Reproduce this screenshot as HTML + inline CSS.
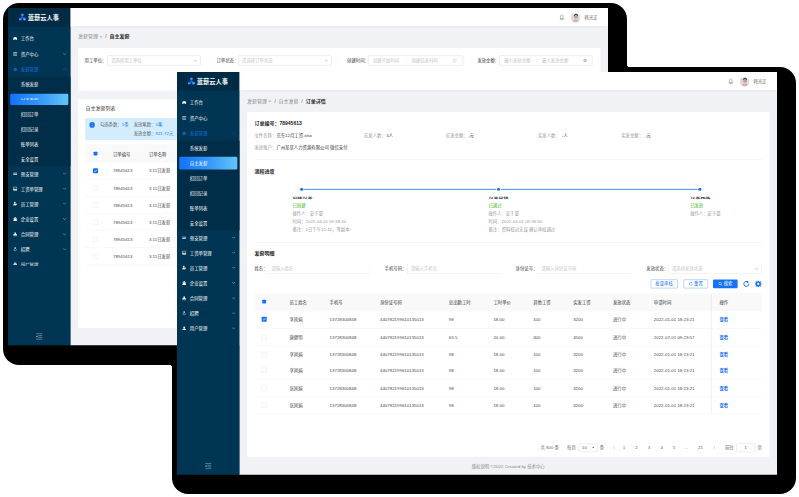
<!DOCTYPE html>
<html lang="zh-CN"><head><meta charset="utf-8"><title>蓝薪云人事 - 自主发薪 / 订单详情</title>
<style>
*{margin:0;padding:0;box-sizing:border-box}
html,body{width:799px;height:497px;background:#fff;overflow:hidden}
body{position:relative;font-family:"Liberation Sans","Noto Sans CJK SC",sans-serif}
.k{position:absolute;background:#000;border-radius:16px}
.win{position:absolute;width:1920px;transform:scale(.3125);transform-origin:0 0;overflow:hidden}
.b{position:absolute;display:block}
.t{position:absolute;white-space:nowrap;line-height:20px}
</style></head>
<body>
<div class="k" style="left:3px;top:3px;width:624px;height:362px"></div>
<div class="k" style="left:172px;top:66.8px;width:624px;height:427.2px"></div>
<div style="position:absolute;left:627px;top:64.8px;width:2px;height:2px;background:radial-gradient(circle at 100% 0,rgba(0,0,0,0) 1.9px,#000 2px)"></div>
<div style="position:absolute;left:170px;top:365px;width:2px;height:2px;background:radial-gradient(circle at 0 100%,rgba(0,0,0,0) 1.9px,#000 2px)"></div>
<div class="win" style="left:8px;top:8px;height:1080px"><div class="b" style="left:199px;top:0px;width:1721px;height:1080px;background:#f1f2f5"></div><div class="t" style="left:224px;top:80px;font-size:16px;color:#8c8c8c;line-height:24px;">发薪管理</div><svg class="b" style="left:293px;top:88.4px;" width="10" height="8.2" viewBox="0 0 10 8.2"><polyline points="0.5,0.8 5,7.2 9.5,0.8" fill="none" stroke="#808080" stroke-width="1.7" opacity="1"/></svg><div class="t" style="left:311px;top:80px;font-size:16px;color:#555;line-height:24px;">/</div><div class="t" style="left:325px;top:80px;font-size:16px;color:#262626;line-height:24px;font-weight:700;">自主发薪</div><div class="b" style="left:224px;top:128px;width:1672px;height:137px;background:#fff;border-radius:3px"></div><div class="t" style="left:245px;top:158px;font-size:14px;color:#3c3c3c;">用工单位：</div><div class="b" style="left:318px;top:152px;width:298px;height:32px;background:#fff;border:1.6px solid #c8c8c8;border-radius:3px;"></div><div class="t" style="left:330px;top:158px;font-size:14px;color:#c4c4c4;">请选择用工单位</div><svg class="b" style="left:593.5px;top:163.76px;" width="11" height="8.48" viewBox="0 0 11 8.48"><polyline points="0.5,0.8 5.5,7.48 10.5,0.8" fill="none" stroke="#a6a6a6" stroke-width="1.5" opacity="1"/></svg><div class="t" style="left:667px;top:158px;font-size:14px;color:#3c3c3c;">订单状态：</div><div class="b" style="left:737px;top:152px;width:298px;height:32px;background:#fff;border:1.6px solid #c8c8c8;border-radius:3px;"></div><div class="t" style="left:749px;top:158px;font-size:14px;color:#c4c4c4;">请选择订单状态</div><svg class="b" style="left:1012.5px;top:163.76px;" width="11" height="8.48" viewBox="0 0 11 8.48"><polyline points="0.5,0.8 5.5,7.48 10.5,0.8" fill="none" stroke="#a6a6a6" stroke-width="1.5" opacity="1"/></svg><div class="t" style="left:1085px;top:158px;font-size:14px;color:#3c3c3c;">创建时间：</div><div class="b" style="left:1153px;top:152px;width:303px;height:32px;background:#fff;border:1.6px solid #c8c8c8;border-radius:3px;"></div><div class="t" style="left:1168px;top:158px;font-size:14px;color:#c4c4c4;">创建开始时间</div><div class="t" style="left:1270px;top:158px;font-size:14px;color:#c4c4c4;">-</div><div class="t" style="left:1291px;top:158px;font-size:14px;color:#c4c4c4;">创建结束时间</div><svg class="b" style="left:1421.5px;top:161px;" width="14" height="14" viewBox="0 0 14 14"><circle cx="7" cy="7" r="5.6" fill="none" stroke="#bdbdbd" stroke-width="1.3"/><path d="M7 3.800v3.600l2.400 1.400" fill="none" stroke="#bdbdbd" stroke-width="1.2"/></svg><div class="t" style="left:1502px;top:158px;font-size:14px;color:#3c3c3c;">发放金额：</div><div class="b" style="left:1572px;top:152px;width:298px;height:32px;background:#fff;border:1.6px solid #c8c8c8;border-radius:3px;"></div><div class="t" style="left:1588px;top:158px;font-size:14px;color:#c4c4c4;">最小发放金额</div><div class="t" style="left:1688px;top:158px;font-size:14px;color:#c4c4c4;">-</div><div class="t" style="left:1709px;top:158px;font-size:14px;color:#c4c4c4;">最大发放金额</div><svg class="b" style="left:1840px;top:161px;" width="14" height="14" viewBox="0 0 14 14"><circle cx="7" cy="7" r="5.8" fill="#bcbcbc"/><path d="M4.800 4.800 9.200 9.200M9.200 4.800 4.800 9.200" stroke="#fff" stroke-width="1.300"/></svg><div class="b" style="left:224px;top:291.5px;width:1672px;height:732.5px;background:#fff;border-radius:3px"></div><div class="t" style="left:248px;top:309.6px;font-size:16px;color:#333;line-height:24px;">自主发薪列表</div><div class="b" style="left:248px;top:352.6px;width:1624px;height:69px;background:#d4edfe;border:1px solid #a6daff;border-radius:4px"></div><svg class="b" style="left:260px;top:365.2px;" width="18.4" height="18.4" viewBox="0 0 18.4 18.4"><circle cx="9.200" cy="9.200" r="9" fill="#1672f5"/><path d="M9.200 8.400v5" stroke="#fff" stroke-width="1.500"/><circle cx="9.200" cy="5.600" r="1" fill="#fff"/></svg><div class="t" style="left:294px;top:364.4px;font-size:14px;color:#666;">勾选条数：<span style="color:#1a7bf2">1条</span></div><div class="t" style="left:402px;top:364.4px;font-size:14px;color:#666;">发放笔数：<span style="color:#1a7bf2">5笔</span></div><div class="t" style="left:402px;top:392.2px;font-size:14px;color:#666;">发放金额：<span style="color:#1a7bf2">921.72元</span></div><div class="b" style="left:248px;top:436px;width:1624px;height:58.5px;background:#f9f9fa;border-radius:3px 3px 0 0"></div><div class="b" style="left:273.7px;top:459.5px;width:12px;height:12px;background:#1672f5;border-radius:1.5px"></div><div class="t" style="left:336px;top:456.5px;font-size:14px;color:#333;">订单编号</div><div class="t" style="left:451px;top:456.5px;font-size:14px;color:#333;">订单名称</div><div class="b" style="left:248px;top:547px;width:1624px;height:1px;background:#ebebeb"></div><div class="b" style="left:271.7px;top:512.5px;width:16px;height:16px;background:#1672f5;border-radius:2px"></div><svg class="b" style="left:271.7px;top:512.5px;" width="16" height="16" viewBox="0 0 16 16"><path d="M3.6 8.2 6.8 11.2 12.4 4.8" fill="none" stroke="#fff" stroke-width="2"/></svg><div class="t" style="left:336px;top:510.5px;font-size:14px;color:#484848;">78945613</div><div class="t" style="left:451px;top:510.5px;font-size:14px;color:#484848;">3.11日发薪</div><div class="b" style="left:248px;top:602px;width:1624px;height:1px;background:#ebebeb"></div><div class="b" style="left:271.7px;top:567.5px;width:16px;height:16px;background:#fff;border:1px solid #d9d9d9;border-radius:2px"></div><div class="t" style="left:336px;top:565.5px;font-size:14px;color:#484848;">78945613</div><div class="t" style="left:451px;top:565.5px;font-size:14px;color:#484848;">3.11日发薪</div><div class="b" style="left:248px;top:657px;width:1624px;height:1px;background:#ebebeb"></div><div class="b" style="left:271.7px;top:622.5px;width:16px;height:16px;background:#fff;border:1px solid #d9d9d9;border-radius:2px"></div><div class="t" style="left:336px;top:620.5px;font-size:14px;color:#484848;">78945613</div><div class="t" style="left:451px;top:620.5px;font-size:14px;color:#484848;">3.11日发薪</div><div class="b" style="left:248px;top:712px;width:1624px;height:1px;background:#ebebeb"></div><div class="b" style="left:271.7px;top:677.5px;width:16px;height:16px;background:#fff;border:1px solid #d9d9d9;border-radius:2px"></div><div class="t" style="left:336px;top:675.5px;font-size:14px;color:#484848;">78945613</div><div class="t" style="left:451px;top:675.5px;font-size:14px;color:#484848;">3.11日发薪</div><div class="b" style="left:248px;top:767px;width:1624px;height:1px;background:#ebebeb"></div><div class="b" style="left:271.7px;top:732.5px;width:16px;height:16px;background:#fff;border:1px solid #d9d9d9;border-radius:2px"></div><div class="t" style="left:336px;top:730.5px;font-size:14px;color:#484848;">78945613</div><div class="t" style="left:451px;top:730.5px;font-size:14px;color:#484848;">3.11日发薪</div><div class="b" style="left:248px;top:822px;width:1624px;height:1px;background:#ebebeb"></div><div class="b" style="left:271.7px;top:787.5px;width:16px;height:16px;background:#fff;border:1px solid #d9d9d9;border-radius:2px"></div><div class="t" style="left:336px;top:785.5px;font-size:14px;color:#484848;">78945613</div><div class="t" style="left:451px;top:785.5px;font-size:14px;color:#484848;">3.11日发薪</div><div class="b" style="left:0px;top:0px;width:200px;height:1080px;background:#003553"></div><div class="b" style="left:0px;top:0px;width:200px;height:60px;background:#002b45"></div><svg class="b" style="left:34px;top:16px;" width="24" height="27" viewBox="0 0 24 27"><circle cx="12" cy="6" r="4.4" fill="#2b86fb"/><path d="M12 9 5 18h14z" fill="#1b6ef0"/><circle cx="5.6" cy="19" r="5" fill="#1a6df0"/><circle cx="18.4" cy="19" r="5" fill="#2b86fb"/><circle cx="12" cy="16.5" r="2.600" fill="#0d4fc0"/><circle cx="4.400" cy="20.500" r="1.800" fill="#7fd0ff"/><circle cx="19.600" cy="20.500" r="1.800" fill="#7fd0ff"/><circle cx="12" cy="4.600" r="1.600" fill="#5ab0ff"/></svg><div class="t" style="left:63px;top:16px;font-size:20px;color:#fff;line-height:28px;font-weight:700;">蓝薪云人事</div><svg class="b" style="left:16px;top:90.3px;" width="14" height="14" viewBox="0 0 14 14"><path d="M.6 11.600V9.400A6.400 6.400 0 0 1 13.400 9.400V11.600H8.600V10H5.400V11.600Z" fill="#fff"/></svg><div class="t m" style="left:41px;top:88.4px;font-size:14px;color:#fff;">工作台</div><svg class="b" style="left:16px;top:139.6px;" width="14" height="14" viewBox="0 0 14 14"><path d="M2.400 2.600H12.600M1 7H11.400M2.400 11.400H12.600" stroke="#fff" stroke-width="2.200" stroke-linecap="round" fill="none" opacity=".85"/></svg><div class="t m" style="left:41px;top:137.7px;font-size:14px;color:#fff;">资产中心</div><svg class="b" style="left:176px;top:143.6px;" width="10" height="6" viewBox="0 0 10 6"><polyline points="0.5,0.8 5,5 9.5,0.8" fill="none" stroke="#fff" stroke-width="1.3" opacity="0.8"/></svg><svg class="b" style="left:16px;top:188.8px;" width="14" height="14" viewBox="0 0 14 14"><circle cx="7" cy="7.600" r="5.200" fill="#1a6fdc" opacity=".9"/><path d="M4.600 7.800 6.400 9.600 9.600 5.800" stroke="#003553" stroke-width="1.500" fill="none"/></svg><div class="t m" style="left:41px;top:186.9px;font-size:14px;color:#1a6fdc;">发薪管理</div><svg class="b" style="left:176px;top:192.8px;" width="10" height="6" viewBox="0 0 10 6"><polyline points="0.5,5 5,0.8 9.5,5" fill="none" stroke="#1a6fdc" stroke-width="1.6" opacity="1"/></svg><div class="b" style="left:0px;top:220px;width:200px;height:286px;background:#002d48"></div><div class="t m" style="left:41px;top:234.935px;font-size:14px;color:#fff;">系统发薪</div><div class="b" style="left:7px;top:273.805px;width:186px;height:36px;border-radius:4px;background:linear-gradient(90deg,#1273fb 0%,#2f93fb 45%,#63c4fa 100%)"></div><div class="b" style="left:0;top:288.005px;width:200px;height:6px;overflow:hidden"><div class="t m" style="left:41px;top:-5.4px;font-size:14px;color:#fff;">自主发薪</div></div><div class="t m" style="left:41px;top:330.275px;font-size:14px;color:#fff;">扣回订单</div><div class="t m" style="left:41px;top:377.945px;font-size:14px;color:#fff;">扣回记录</div><div class="t m" style="left:41px;top:425.615px;font-size:14px;color:#fff;">账单列表</div><div class="t m" style="left:41px;top:473.285px;font-size:14px;color:#fff;">安全设置</div><svg class="b" style="left:16px;top:522.6px;" width="14" height="14" viewBox="0 0 14 14"><path d="M.8 4.200h12.400v2.200H.8zM.8 8h12.400v2.200H.8z" fill="#fff" opacity=".9"/></svg><div class="t m" style="left:41px;top:520.7px;font-size:14px;color:#fff;">预支管理</div><svg class="b" style="left:176px;top:526.6px;" width="10" height="6" viewBox="0 0 10 6"><polyline points="0.5,0.8 5,5 9.5,0.8" fill="none" stroke="#fff" stroke-width="1.5" opacity="0.85"/></svg><svg class="b" style="left:16px;top:571.2px;" width="14" height="14" viewBox="0 0 14 14"><path d="M1.6 1.4h10.8v11.2H1.6z" fill="none" stroke="#fff" stroke-width="1.5"/><path d="M1.6 9h10.8v3.6H1.6z" fill="#fff"/><path d="M4.3 5.2 6.3 7 9.8 3.4" stroke="#fff" stroke-width="1.2" fill="none"/></svg><div class="t m" style="left:41px;top:569.3px;font-size:14px;color:#fff;">工资单管理</div><svg class="b" style="left:176px;top:575.2px;" width="10" height="6" viewBox="0 0 10 6"><polyline points="0.5,0.8 5,5 9.5,0.8" fill="none" stroke="#fff" stroke-width="1.5" opacity="0.85"/></svg><svg class="b" style="left:16px;top:618.5px;" width="14" height="14" viewBox="0 0 14 14"><circle cx="5.6" cy="4" r="2.9" fill="#fff"/><path d="M.6 12.6c0-3.2 2.2-5 5-5s5 1.8 5 5z" fill="#fff"/><path d="M11.2 6.6v4.6M8.9 8.9h4.6" stroke="#fff" stroke-width="1.4"/></svg><div class="t m" style="left:41px;top:616.6px;font-size:14px;color:#fff;">员工管理</div><svg class="b" style="left:176px;top:622.5px;" width="10" height="6" viewBox="0 0 10 6"><polyline points="0.5,0.8 5,5 9.5,0.8" fill="none" stroke="#fff" stroke-width="1.5" opacity="0.85"/></svg><svg class="b" style="left:16px;top:667.6px;" width="14" height="14" viewBox="0 0 14 14"><path d="M7 1 12.8 5.2V6.4H1.2V5.2ZM2.4 7h9.2v4H2.4ZM1 11.4h12v1.8H1Z" fill="#fff"/></svg><div class="t m" style="left:41px;top:665.7px;font-size:14px;color:#fff;">企业设置</div><svg class="b" style="left:176px;top:671.6px;" width="10" height="6" viewBox="0 0 10 6"><polyline points="0.5,0.8 5,5 9.5,0.8" fill="none" stroke="#fff" stroke-width="1.5" opacity="0.85"/></svg><svg class="b" style="left:16px;top:716.5px;" width="14" height="14" viewBox="0 0 14 14"><path d="M5.2 1.2h3.6a1 1 0 0 1 1 1L9 7h3.2a1 1 0 0 1 1 1v2.4H.8V8a1 1 0 0 1 1-1H5L4.2 2.2a1 1 0 0 1 1-1zM1.2 11.4h11.6v1.6H1.2z" fill="#fff"/></svg><div class="t m" style="left:41px;top:714.6px;font-size:14px;color:#fff;">合同管理</div><svg class="b" style="left:176px;top:720.5px;" width="10" height="6" viewBox="0 0 10 6"><polyline points="0.5,0.8 5,5 9.5,0.8" fill="none" stroke="#fff" stroke-width="1.5" opacity="0.85"/></svg><svg class="b" style="left:16px;top:764.8px;" width="14" height="14" viewBox="0 0 14 14"><circle cx="7" cy="8.6" r="3.8" fill="none" stroke="#fff" stroke-width="1.3"/><path d="M4.4 1.4h5.2v2H4.4z" fill="#fff"/><path d="M7 3.4v1.6" stroke="#fff" stroke-width="1.2"/></svg><div class="t m" style="left:41px;top:762.9px;font-size:14px;color:#fff;">招聘</div><svg class="b" style="left:176px;top:768.8px;" width="10" height="6" viewBox="0 0 10 6"><polyline points="0.5,0.8 5,5 9.5,0.8" fill="none" stroke="#fff" stroke-width="1.5" opacity="0.85"/></svg><div class="b" style="left:0;top:814.4px;width:200px;height:20px;overflow:hidden"><div class="b" style="left:0;top:-814.4px;width:200px;height:900px"><svg class="b" style="left:16px;top:809.3px;" width="14" height="14" viewBox="0 0 14 14"><circle cx="7" cy="4" r="3" fill="#fff"/><path d="M.8 12.8c0-3.4 2.6-5 6.2-5s6.2 1.6 6.2 5z" fill="#fff"/></svg><div class="t m" style="left:41px;top:807.4px;font-size:14px;color:#fff;">用户管理</div></div></div><svg class="b" style="left:89px;top:1039px;" width="22" height="24" viewBox="0 0 22 24"><path d="M1 3.500h20M8 9.300H21M8 14.700H21M1 20.500h20" stroke="#fff" stroke-opacity=".42" stroke-width="2.600"/><path d="M5.200 9 .6 12l4.600 3z" fill="#fff" fill-opacity=".85"/></svg><div class="b" style="left:200px;top:0px;width:1720px;height:60px;background:#fff;box-shadow:0 2px 5px rgba(0,12,30,.3)"></div><svg class="b" style="left:1764px;top:20px;" width="16" height="20" viewBox="0 0 16 20"><path d="M8 1.800c-2.600 0-4 2.100-4 4.800v4.600L2.400 15h11.200L12 11.200V6.600c0-2.700-1.400-4.800-4-4.800z" fill="none" stroke="#707070" stroke-width="1.400"/><path d="M2 15.400h12M6.400 17.800h3.200" stroke="#707070" stroke-width="1.400"/></svg><svg class="b" style="left:1800.5px;top:15.5px;border-radius:50%;" width="30" height="30" viewBox="0 0 30 30"><rect width="30" height="30" fill="#dcdcdf"/><path d="M6 30c1-6 5-9 11-9s10 3 11 9z" fill="#cfb3ad"/><ellipse cx="16.500" cy="14.500" rx="5.600" ry="7" fill="#ddb9ab"/><path d="M9.500 11.500c-.4-5.500 2.800-8.700 7.200-8.700 4.700 0 7.400 3.300 6.300 8.200-1.300-2.500-3.400-3.600-6.500-3.600-3.200 0-5.400 1.300-7 4.100z" fill="#262324"/><path d="M11 12.800h11" stroke="#3a3435" stroke-width="1.300"/></svg><div class="t" style="left:1845px;top:20.5px;font-size:14px;color:#666;">韩光正</div></div>
<div class="win" style="left:177px;top:71.9px;height:1289px"><div class="b" style="left:199px;top:0px;width:1721px;height:1290px;background:#f1f2f5"></div><div class="t" style="left:224px;top:81px;font-size:16px;color:#8c8c8c;line-height:24px;">发薪管理</div><svg class="b" style="left:292px;top:89.4px;" width="10" height="8.2" viewBox="0 0 10 8.2"><polyline points="0.5,0.8 5,7.2 9.5,0.8" fill="none" stroke="#808080" stroke-width="1.7" opacity="1"/></svg><div class="t" style="left:312px;top:81px;font-size:16px;color:#555;line-height:24px;">/</div><div class="t" style="left:325px;top:81px;font-size:16px;color:#8c8c8c;line-height:24px;">自主发薪</div><div class="t" style="left:397.5px;top:81px;font-size:16px;color:#555;line-height:24px;">/</div><div class="t" style="left:412px;top:81px;font-size:16px;color:#262626;line-height:24px;font-weight:700;">订单详情</div><div class="b" style="left:224px;top:128px;width:1672px;height:1103px;background:#fff;border-radius:3px"></div><div class="t" style="left:248px;top:151.5px;font-size:16px;color:#222;line-height:24px;font-weight:700;">订单编号：78945613</div><div class="t" style="left:248px;top:192.3px;font-size:14px;color:#9a9a9a;">文件名称：</div><div class="t" style="left:318px;top:192.3px;font-size:14px;color:#333;">京东12月工资.xlsx</div><div class="t" style="left:598.4px;top:192.3px;font-size:14px;color:#9a9a9a;">应发人数：</div><div class="t" style="left:670px;top:192.3px;font-size:14px;color:#333;">5人</div><div class="t" style="left:860.2px;top:192.3px;font-size:14px;color:#9a9a9a;">应发金额：</div><div class="t" style="left:931px;top:192.3px;font-size:14px;color:#333;">-元</div><div class="t" style="left:1155.2px;top:192.3px;font-size:14px;color:#9a9a9a;">实发人数：</div><div class="t" style="left:1232px;top:192.3px;font-size:14px;color:#333;">-人</div><div class="t" style="left:1421.4px;top:192.3px;font-size:14px;color:#9a9a9a;">实发金额：</div><div class="t" style="left:1498px;top:192.3px;font-size:14px;color:#333;">-元</div><div class="t" style="left:248px;top:229.8px;font-size:14px;color:#9a9a9a;">发放账户：</div><div class="t" style="left:318px;top:229.8px;font-size:14px;color:#333;">广州某某人力资源有限公司 微信支付</div><div class="b" style="left:248px;top:280px;width:1624px;height:1px;background:#e4e4e4"></div><div class="t" style="left:248px;top:306px;font-size:16px;color:#222;line-height:24px;font-weight:700;">流程进度</div><div class="b" style="left:399.4px;top:374.2px;width:1273.2px;height:2.4px;background:#3585fb"></div><div class="b" style="left:394.4px;top:370.4px;width:10px;height:10px;background:#1672f5;border-radius:50%;box-shadow:0 0 0 3px #fff"></div><div class="b" style="left:1023.8px;top:370.4px;width:10px;height:10px;background:#1672f5;border-radius:50%;box-shadow:0 0 0 3px #fff"></div><div class="b" style="left:1667.6px;top:370.4px;width:10px;height:10px;background:#1672f5;border-radius:50%;box-shadow:0 0 0 3px #fff"></div><div class="b" style="left:369.3px;top:398.500px;width:200px;height:14px;overflow:hidden"><div class="t" style="left:0px;top:-11.5px;font-size:16px;color:#2e2e2e;line-height:24px;font-weight:700;">创建订单</div></div><div class="t" style="left:369.3px;top:417.6px;font-size:14px;color:#41b82a;">已创建</div><div class="t" style="left:369.3px;top:443.2px;font-size:14px;color:#9a9a9a;">操作人：彭于晏</div><div class="t" style="left:369.3px;top:468.4px;font-size:14px;color:#9a9a9a;">时间：2022-04-01 09:38:30</div><div class="t" style="left:369.3px;top:493.6px;font-size:14px;color:#9a9a9a;">备注：1日下午15:10，等副本~</div><div class="b" style="left:996.5px;top:398.500px;width:200px;height:14px;overflow:hidden"><div class="t" style="left:0px;top:-11.5px;font-size:16px;color:#2e2e2e;line-height:24px;font-weight:700;">订单审核</div></div><div class="t" style="left:996.5px;top:417.6px;font-size:14px;color:#41b82a;">已通过</div><div class="t" style="left:996.5px;top:443.2px;font-size:14px;color:#9a9a9a;">操作人：彭于晏</div><div class="t" style="left:996.5px;top:468.4px;font-size:14px;color:#9a9a9a;">时间：2022-04-01 09:38:30</div><div class="t" style="left:996.5px;top:493.6px;font-size:14px;color:#9a9a9a;">备注：资料核对无误 确认审核通过</div><div class="b" style="left:1642px;top:398.500px;width:200px;height:14px;overflow:hidden"><div class="t" style="left:0px;top:-11.5px;font-size:16px;color:#2e2e2e;line-height:24px;font-weight:700;">订单完成</div></div><div class="t" style="left:1642px;top:417.6px;font-size:14px;color:#41b82a;">已发放</div><div class="t" style="left:1642px;top:443.2px;font-size:14px;color:#9a9a9a;">操作人：彭于晏</div><div class="b" style="left:248px;top:545px;width:1624px;height:1px;background:#e4e4e4"></div><div class="t" style="left:248px;top:568.8px;font-size:16px;color:#222;line-height:24px;font-weight:700;">发薪明细</div><div class="t" style="left:248px;top:619px;font-size:14px;color:#3c3c3c;">姓名：</div><div class="b" style="left:290px;top:613px;width:326px;height:32px;background:#fff;border:1.6px solid #c8c8c8;border-radius:3px;border-top-color:rgba(0,0,0,0);border-radius:0 0 3px 3px;"></div><div class="t" style="left:302px;top:619px;font-size:14px;color:#c4c4c4;">请输入姓名</div><div class="t" style="left:664.3px;top:619px;font-size:14px;color:#3c3c3c;">手机号码：</div><div class="b" style="left:736px;top:613px;width:298px;height:32px;background:#fff;border:1.6px solid #c8c8c8;border-radius:3px;border-top-color:rgba(0,0,0,0);border-radius:0 0 3px 3px;"></div><div class="t" style="left:748px;top:619px;font-size:14px;color:#c4c4c4;">请输入手机号</div><div class="t" style="left:1083.5px;top:619px;font-size:14px;color:#3c3c3c;">身份证号：</div><div class="b" style="left:1154px;top:613px;width:300px;height:32px;background:#fff;border:1.6px solid #c8c8c8;border-radius:3px;border-top-color:rgba(0,0,0,0);border-radius:0 0 3px 3px;"></div><div class="t" style="left:1166px;top:619px;font-size:14px;color:#c4c4c4;">请输入身份证号码</div><div class="t" style="left:1501.8px;top:619px;font-size:14px;color:#3c3c3c;">发放状态：</div><div class="b" style="left:1572px;top:613px;width:299px;height:32px;background:#fff;border:1.6px solid #c8c8c8;border-radius:3px;border-top-color:rgba(0,0,0,0);border-radius:0 0 3px 3px;"></div><div class="t" style="left:1584px;top:619px;font-size:14px;color:#c4c4c4;">请选择发放状态</div><svg class="b" style="left:1848.5px;top:624.76px;" width="11" height="8.48" viewBox="0 0 11 8.48"><polyline points="0.5,0.8 5.5,7.48 10.5,0.8" fill="none" stroke="#a6a6a6" stroke-width="1.5" opacity="1"/></svg><div class="b" style="left:1515.5px;top:664px;width:86px;height:28px;background:#fff;border:1px solid #2c80f5;border-radius:3px"></div><div class="t" style="left:1558.5px;top:668px;font-size:14px;color:#1a72ee;transform:translateX(-50%);">批量审核</div><div class="b" style="left:1620.5px;top:664px;width:78px;height:28px;background:#fff;border:1px solid #2c80f5;border-radius:3px"></div><svg class="b" style="left:1636.5px;top:671px;" width="14" height="14" viewBox="0 0 14 14"><path d="M11.800 7a4.800 4.800 0 1 1-1.600-3.600" fill="none" stroke="#1a72ee" stroke-width="1.500"/><path d="M8.600 1.200 11.800 3.600 8.200 5.200z" fill="#1a72ee"/></svg><div class="t" style="left:1668.5px;top:668px;font-size:14px;color:#1a72ee;transform:translateX(-50%);">重置</div><div class="b" style="left:1715px;top:664px;width:79px;height:28px;background:#1672f5;border-radius:3px"></div><svg class="b" style="left:1732px;top:671px;" width="14" height="14" viewBox="0 0 14 14"><circle cx="6" cy="6" r="4.200" fill="none" stroke="#fff" stroke-width="1.700"/><path d="M9.200 9.200 12.800 12.800" stroke="#fff" stroke-width="1.900"/></svg><div class="t" style="left:1763.5px;top:668px;font-size:14px;color:#fff;transform:translateX(-50%);">搜索</div><svg class="b" style="left:1811px;top:667px;" width="22" height="22" viewBox="0 0 22 22"><path d="M19 11a8 8 0 1 1-2.700-6" fill="none" stroke="#1672f5" stroke-width="3.200"/><path d="M12.600 .8 19.600 5.600 12 9.200z" fill="#1672f5"/></svg><svg class="b" style="left:1849px;top:667px;" width="22" height="22" viewBox="0 0 22 22"><rect x="9" y="0" width="4" height="6" rx=".8" fill="#1672f5" transform="rotate(0 11 11)"/><rect x="9" y="0" width="4" height="6" rx=".8" fill="#1672f5" transform="rotate(45 11 11)"/><rect x="9" y="0" width="4" height="6" rx=".8" fill="#1672f5" transform="rotate(90 11 11)"/><rect x="9" y="0" width="4" height="6" rx=".8" fill="#1672f5" transform="rotate(135 11 11)"/><rect x="9" y="0" width="4" height="6" rx=".8" fill="#1672f5" transform="rotate(180 11 11)"/><rect x="9" y="0" width="4" height="6" rx=".8" fill="#1672f5" transform="rotate(225 11 11)"/><rect x="9" y="0" width="4" height="6" rx=".8" fill="#1672f5" transform="rotate(270 11 11)"/><rect x="9" y="0" width="4" height="6" rx=".8" fill="#1672f5" transform="rotate(315 11 11)"/><circle cx="11" cy="11" r="5.800" fill="none" stroke="#1672f5" stroke-width="4.400"/></svg><div class="b" style="left:248px;top:708.5px;width:1624px;height:57px;background:#f9f9fa;border-radius:3px 3px 0 0"></div><div class="b" style="left:273.4px;top:728.6px;width:12px;height:12px;background:#1672f5;border-radius:1.5px"></div><div class="t" style="left:360px;top:726.8px;font-size:14px;color:#333;">员工姓名</div><div class="t" style="left:488.3px;top:726.8px;font-size:14px;color:#333;">手机号</div><div class="t" style="left:649.6px;top:726.8px;font-size:14px;color:#333;">身份证号码</div><div class="t" style="left:869.8px;top:726.8px;font-size:14px;color:#333;">总出勤工时</div><div class="t" style="left:1012.5px;top:726.8px;font-size:14px;color:#333;">工时单价</div><div class="t" style="left:1139.8px;top:726.8px;font-size:14px;color:#333;">其他工资</div><div class="t" style="left:1267.8px;top:726.8px;font-size:14px;color:#333;">实发工资</div><div class="t" style="left:1395.2px;top:726.8px;font-size:14px;color:#333;">发放状态</div><div class="t" style="left:1525.8px;top:726.8px;font-size:14px;color:#333;">申请时间</div><div class="b" style="left:248px;top:819.5px;width:1624px;height:1px;background:#ebebeb"></div><div class="b" style="left:271.4px;top:783px;width:16px;height:16px;background:#1672f5;border-radius:2px"></div><svg class="b" style="left:271.4px;top:783px;" width="16" height="16" viewBox="0 0 16 16"><path d="M3.6 8.2 6.8 11.2 12.4 4.8" fill="none" stroke="#fff" stroke-width="2"/></svg><div class="t" style="left:360px;top:781px;font-size:14px;color:#484848;">李凤娟</div><div class="t" style="left:488.3px;top:781px;font-size:14px;color:#484848;">13728300848</div><div class="t" style="left:649.6px;top:781px;font-size:14px;color:#484848;">440782199610135013</div><div class="t" style="left:869.8px;top:781px;font-size:14px;color:#484848;">98</div><div class="t" style="left:1012.5px;top:781px;font-size:14px;color:#484848;">18.00</div><div class="t" style="left:1139.8px;top:781px;font-size:14px;color:#484848;">100</div><div class="t" style="left:1267.8px;top:781px;font-size:14px;color:#484848;">3200</div><div class="t" style="left:1395.2px;top:781px;font-size:14px;color:#484848;">进行中</div><div class="t" style="left:1525.8px;top:781px;font-size:14px;color:#484848;">2022-01-01 18:23:21</div><div class="b" style="left:248px;top:874.5px;width:1624px;height:1px;background:#ebebeb"></div><div class="b" style="left:271.4px;top:840px;width:16px;height:16px;background:#fff;border:1px solid #d9d9d9;border-radius:2px"></div><div class="t" style="left:360px;top:838px;font-size:14px;color:#484848;">唐健明</div><div class="t" style="left:488.3px;top:838px;font-size:14px;color:#484848;">13728300848</div><div class="t" style="left:649.6px;top:838px;font-size:14px;color:#484848;">440782199610135013</div><div class="t" style="left:869.8px;top:838px;font-size:14px;color:#484848;">63.5</div><div class="t" style="left:1012.5px;top:838px;font-size:14px;color:#484848;">20.00</div><div class="t" style="left:1139.8px;top:838px;font-size:14px;color:#484848;">300</div><div class="t" style="left:1267.8px;top:838px;font-size:14px;color:#484848;">4500</div><div class="t" style="left:1395.2px;top:838px;font-size:14px;color:#484848;">进行中</div><div class="t" style="left:1525.8px;top:838px;font-size:14px;color:#484848;">2022-07-01 09:23:57</div><div class="b" style="left:271.4px;top:895.5px;width:16px;height:16px;background:#fff;border:1px solid #d9d9d9;border-radius:2px"></div><div class="t" style="left:360px;top:893.5px;font-size:14px;color:#484848;">李凤娟</div><div class="t" style="left:488.3px;top:893.5px;font-size:14px;color:#484848;">13728300848</div><div class="t" style="left:649.6px;top:893.5px;font-size:14px;color:#484848;">440782199610135013</div><div class="t" style="left:869.8px;top:893.5px;font-size:14px;color:#484848;">98</div><div class="t" style="left:1012.5px;top:893.5px;font-size:14px;color:#484848;">18.00</div><div class="t" style="left:1139.8px;top:893.5px;font-size:14px;color:#484848;">100</div><div class="t" style="left:1267.8px;top:893.5px;font-size:14px;color:#484848;">3200</div><div class="t" style="left:1395.2px;top:893.5px;font-size:14px;color:#484848;">进行中</div><div class="t" style="left:1525.8px;top:893.5px;font-size:14px;color:#484848;">2022-01-01 18:23:21</div><div class="b" style="left:248px;top:983.5px;width:1624px;height:1px;background:#ebebeb"></div><div class="b" style="left:271.4px;top:946.2px;width:16px;height:16px;background:#fff;border:1px solid #d9d9d9;border-radius:2px"></div><div class="t" style="left:360px;top:944.2px;font-size:14px;color:#484848;">李凤娟</div><div class="t" style="left:488.3px;top:944.2px;font-size:14px;color:#484848;">13728300848</div><div class="t" style="left:649.6px;top:944.2px;font-size:14px;color:#484848;">440782199610135013</div><div class="t" style="left:869.8px;top:944.2px;font-size:14px;color:#484848;">98</div><div class="t" style="left:1012.5px;top:944.2px;font-size:14px;color:#484848;">18.00</div><div class="t" style="left:1139.8px;top:944.2px;font-size:14px;color:#484848;">100</div><div class="t" style="left:1267.8px;top:944.2px;font-size:14px;color:#484848;">3200</div><div class="t" style="left:1395.2px;top:944.2px;font-size:14px;color:#484848;">进行中</div><div class="t" style="left:1525.8px;top:944.2px;font-size:14px;color:#484848;">2022-01-01 18:23:21</div><div class="b" style="left:248px;top:1038.5px;width:1624px;height:1px;background:#ebebeb"></div><div class="b" style="left:271.4px;top:1003.5px;width:16px;height:16px;background:#fff;border:1px solid #d9d9d9;border-radius:2px"></div><div class="t" style="left:360px;top:1001.5px;font-size:14px;color:#484848;">张凤娟</div><div class="t" style="left:488.3px;top:1001.5px;font-size:14px;color:#484848;">13728300848</div><div class="t" style="left:649.6px;top:1001.5px;font-size:14px;color:#484848;">440782199610135013</div><div class="t" style="left:869.8px;top:1001.5px;font-size:14px;color:#484848;">98</div><div class="t" style="left:1012.5px;top:1001.5px;font-size:14px;color:#484848;">18.00</div><div class="t" style="left:1139.8px;top:1001.5px;font-size:14px;color:#484848;">100</div><div class="t" style="left:1267.8px;top:1001.5px;font-size:14px;color:#484848;">3200</div><div class="t" style="left:1395.2px;top:1001.5px;font-size:14px;color:#484848;">进行中</div><div class="t" style="left:1525.8px;top:1001.5px;font-size:14px;color:#484848;">2022-01-01 18:23:21</div><div class="b" style="left:248px;top:1093px;width:1624px;height:1px;background:#ebebeb"></div><div class="b" style="left:271.4px;top:1058px;width:16px;height:16px;background:#fff;border:1px solid #d9d9d9;border-radius:2px"></div><div class="t" style="left:360px;top:1056px;font-size:14px;color:#484848;">张凤娟</div><div class="t" style="left:488.3px;top:1056px;font-size:14px;color:#484848;">13728300848</div><div class="t" style="left:649.6px;top:1056px;font-size:14px;color:#484848;">440782199610135013</div><div class="t" style="left:869.8px;top:1056px;font-size:14px;color:#484848;">98</div><div class="t" style="left:1012.5px;top:1056px;font-size:14px;color:#484848;">18.00</div><div class="t" style="left:1139.8px;top:1056px;font-size:14px;color:#484848;">100</div><div class="t" style="left:1267.8px;top:1056px;font-size:14px;color:#484848;">3200</div><div class="t" style="left:1395.2px;top:1056px;font-size:14px;color:#484848;">进行中</div><div class="t" style="left:1525.8px;top:1056px;font-size:14px;color:#484848;">2022-01-01 18:23:21</div><div class="b" style="left:1712px;top:708.5px;width:160px;height:385.5px;background:#fff;box-shadow:-3px 0 6px -2px rgba(0,0,0,.13)"></div><div class="b" style="left:1712px;top:708.5px;width:160px;height:57px;background:#f9f9fa"></div><div class="t" style="left:1735.7px;top:726.8px;font-size:14px;color:#333;">操作</div><div class="b" style="left:1712px;top:819.5px;width:160px;height:1px;background:#ebebeb"></div><div class="t" style="left:1735.7px;top:781px;font-size:14px;color:#1a72ee;font-weight:700;">查看</div><div class="b" style="left:1712px;top:874.5px;width:160px;height:1px;background:#ebebeb"></div><div class="t" style="left:1735.7px;top:838px;font-size:14px;color:#1a72ee;font-weight:700;">查看</div><div class="t" style="left:1735.7px;top:893.5px;font-size:14px;color:#1a72ee;font-weight:700;">查看</div><div class="b" style="left:1712px;top:983.5px;width:160px;height:1px;background:#ebebeb"></div><div class="t" style="left:1735.7px;top:944.2px;font-size:14px;color:#1a72ee;font-weight:700;">查看</div><div class="b" style="left:1712px;top:1038.5px;width:160px;height:1px;background:#ebebeb"></div><div class="t" style="left:1735.7px;top:1001.5px;font-size:14px;color:#1a72ee;font-weight:700;">查看</div><div class="b" style="left:1712px;top:1093px;width:160px;height:1px;background:#ebebeb"></div><div class="t" style="left:1735.7px;top:1056px;font-size:14px;color:#1a72ee;font-weight:700;">查看</div><div class="t" style="left:1163px;top:1192px;font-size:14px;color:#666;">共 800 条</div><div class="t" style="left:1248.3px;top:1192px;font-size:14px;color:#666;">每页</div><div class="b" style="left:1285px;top:1189px;width:61px;height:27px;background:#fff;border:1.6px solid #c8c8c8;border-radius:3px;"></div><div class="t" style="left:1296px;top:1192px;font-size:14px;color:#666;">10</div><svg class="b" style="left:1328px;top:1199px;" width="9" height="6" viewBox="0 0 9 6"><path d="M.5.5h8L4.500 5.500z" fill="#666"/></svg><div class="t" style="left:1352.6px;top:1192px;font-size:14px;color:#666;">条</div><svg class="b" style="left:1395.5px;top:1197px;" width="7" height="10" viewBox="0 0 7 10"><polyline points="5.500,.8 1.200,5 5.500,9.200" fill="none" stroke="#8a8a8a" stroke-width="1.300"/></svg><div class="t" style="left:1430px;top:1192px;font-size:14px;color:#1a72ee;transform:translateX(-50%);">1</div><div class="t" style="left:1470.7px;top:1192px;font-size:14px;color:#666;transform:translateX(-50%);">2</div><div class="t" style="left:1510.4px;top:1192px;font-size:14px;color:#666;transform:translateX(-50%);">3</div><div class="t" style="left:1551px;top:1192px;font-size:14px;color:#666;transform:translateX(-50%);">4</div><div class="t" style="left:1590px;top:1192px;font-size:14px;color:#666;transform:translateX(-50%);">5</div><div class="t" style="left:1630px;top:1192px;font-size:14px;color:#666;transform:translateX(-50%);">...</div><div class="t" style="left:1675px;top:1192px;font-size:14px;color:#666;transform:translateX(-50%);">21</div><svg class="b" style="left:1716.2px;top:1197px;" width="7" height="10" viewBox="0 0 7 10"><polyline points="1.200,.8 5.500,5 1.200,9.200" fill="none" stroke="#8a8a8a" stroke-width="1.300"/></svg><div class="t" style="left:1753.3px;top:1192px;font-size:14px;color:#666;">前往</div><div class="b" style="left:1789.5px;top:1189px;width:60px;height:27px;background:#fff;border:1.6px solid #c8c8c8;border-radius:3px;"></div><div class="t" style="left:1819.5px;top:1192px;font-size:14px;color:#666;transform:translateX(-50%);">1</div><div class="t" style="left:1857.3px;top:1192px;font-size:14px;color:#666;">页</div><div class="t" style="left:1060px;top:1251px;font-size:14px;color:#8c8c8c;transform:translateX(-50%);">版权说明 ©2022 Created by 技术中心</div><div class="b" style="left:0px;top:0px;width:200px;height:1290px;background:#003553"></div><div class="b" style="left:0px;top:0px;width:200px;height:60px;background:#002b45"></div><svg class="b" style="left:34px;top:16px;" width="24" height="27" viewBox="0 0 24 27"><circle cx="12" cy="6" r="4.4" fill="#2b86fb"/><path d="M12 9 5 18h14z" fill="#1b6ef0"/><circle cx="5.6" cy="19" r="5" fill="#1a6df0"/><circle cx="18.4" cy="19" r="5" fill="#2b86fb"/><circle cx="12" cy="16.5" r="2.600" fill="#0d4fc0"/><circle cx="4.400" cy="20.500" r="1.800" fill="#7fd0ff"/><circle cx="19.600" cy="20.500" r="1.800" fill="#7fd0ff"/><circle cx="12" cy="4.600" r="1.600" fill="#5ab0ff"/></svg><div class="t" style="left:63px;top:16px;font-size:20px;color:#fff;line-height:28px;font-weight:700;">蓝薪云人事</div><svg class="b" style="left:16px;top:90.3px;" width="14" height="14" viewBox="0 0 14 14"><path d="M.6 11.600V9.400A6.400 6.400 0 0 1 13.400 9.400V11.600H8.600V10H5.400V11.600Z" fill="#fff"/></svg><div class="t m" style="left:41px;top:88.4px;font-size:14px;color:#fff;">工作台</div><svg class="b" style="left:16px;top:139.6px;" width="14" height="14" viewBox="0 0 14 14"><path d="M2.400 2.600H12.600M1 7H11.400M2.400 11.400H12.600" stroke="#fff" stroke-width="2.200" stroke-linecap="round" fill="none" opacity=".85"/></svg><div class="t m" style="left:41px;top:137.7px;font-size:14px;color:#fff;">资产中心</div><svg class="b" style="left:16px;top:188.8px;" width="14" height="14" viewBox="0 0 14 14"><circle cx="7" cy="7.600" r="5.200" fill="#1a6fdc" opacity=".9"/><path d="M4.600 7.800 6.400 9.600 9.600 5.800" stroke="#003553" stroke-width="1.500" fill="none"/></svg><div class="t m" style="left:41px;top:186.9px;font-size:14px;color:#1a6fdc;">发薪管理</div><svg class="b" style="left:176px;top:192.8px;" width="10" height="6" viewBox="0 0 10 6"><polyline points="0.5,5 5,0.8 9.5,5" fill="none" stroke="#1a6fdc" stroke-width="1.6" opacity="0.6"/></svg><div class="b" style="left:0px;top:220px;width:200px;height:286px;background:#002d48"></div><div class="t m" style="left:41px;top:233.335px;font-size:14px;color:#fff;">系统发薪</div><div class="b" style="left:7px;top:271.305px;width:186px;height:41px;border-radius:4px;background:linear-gradient(90deg,#1273fb 0%,#2f93fb 45%,#63c4fa 100%)"></div><div class="t m" style="left:41px;top:282.605px;font-size:14px;color:#fff;">自主发薪</div><div class="t m" style="left:41px;top:332.075px;font-size:14px;color:#fff;">扣回订单</div><div class="t m" style="left:41px;top:379.145px;font-size:14px;color:#fff;">扣回记录</div><div class="t m" style="left:41px;top:426.215px;font-size:14px;color:#fff;">账单列表</div><div class="t m" style="left:41px;top:473.285px;font-size:14px;color:#fff;">安全设置</div><svg class="b" style="left:16px;top:522.6px;" width="14" height="14" viewBox="0 0 14 14"><path d="M.8 4.200h12.400v2.200H.8zM.8 8h12.400v2.200H.8z" fill="#fff" opacity=".9"/></svg><div class="t m" style="left:41px;top:520.7px;font-size:14px;color:#fff;">预支管理</div><svg class="b" style="left:176px;top:526.6px;" width="10" height="6" viewBox="0 0 10 6"><polyline points="0.5,0.8 5,5 9.5,0.8" fill="none" stroke="#fff" stroke-width="1.5" opacity="0.85"/></svg><svg class="b" style="left:16px;top:571.2px;" width="14" height="14" viewBox="0 0 14 14"><path d="M1.6 1.4h10.8v11.2H1.6z" fill="none" stroke="#fff" stroke-width="1.5"/><path d="M1.6 9h10.8v3.6H1.6z" fill="#fff"/><path d="M4.3 5.2 6.3 7 9.8 3.4" stroke="#fff" stroke-width="1.2" fill="none"/></svg><div class="t m" style="left:41px;top:569.3px;font-size:14px;color:#fff;">工资单管理</div><svg class="b" style="left:176px;top:575.2px;" width="10" height="6" viewBox="0 0 10 6"><polyline points="0.5,0.8 5,5 9.5,0.8" fill="none" stroke="#fff" stroke-width="1.5" opacity="0.85"/></svg><svg class="b" style="left:16px;top:618.5px;" width="14" height="14" viewBox="0 0 14 14"><circle cx="5.6" cy="4" r="2.9" fill="#fff"/><path d="M.6 12.6c0-3.2 2.2-5 5-5s5 1.8 5 5z" fill="#fff"/><path d="M11.2 6.6v4.6M8.9 8.9h4.6" stroke="#fff" stroke-width="1.4"/></svg><div class="t m" style="left:41px;top:616.6px;font-size:14px;color:#fff;">员工管理</div><svg class="b" style="left:176px;top:622.5px;" width="10" height="6" viewBox="0 0 10 6"><polyline points="0.5,0.8 5,5 9.5,0.8" fill="none" stroke="#fff" stroke-width="1.5" opacity="0.85"/></svg><svg class="b" style="left:16px;top:667.6px;" width="14" height="14" viewBox="0 0 14 14"><path d="M7 1 12.8 5.2V6.4H1.2V5.2ZM2.4 7h9.2v4H2.4ZM1 11.4h12v1.8H1Z" fill="#fff"/></svg><div class="t m" style="left:41px;top:665.7px;font-size:14px;color:#fff;">企业设置</div><svg class="b" style="left:176px;top:671.6px;" width="10" height="6" viewBox="0 0 10 6"><polyline points="0.5,0.8 5,5 9.5,0.8" fill="none" stroke="#fff" stroke-width="1.5" opacity="0.85"/></svg><svg class="b" style="left:16px;top:716.5px;" width="14" height="14" viewBox="0 0 14 14"><path d="M5.2 1.2h3.6a1 1 0 0 1 1 1L9 7h3.2a1 1 0 0 1 1 1v2.4H.8V8a1 1 0 0 1 1-1H5L4.2 2.2a1 1 0 0 1 1-1zM1.2 11.4h11.6v1.6H1.2z" fill="#fff"/></svg><div class="t m" style="left:41px;top:714.6px;font-size:14px;color:#fff;">合同管理</div><svg class="b" style="left:176px;top:720.5px;" width="10" height="6" viewBox="0 0 10 6"><polyline points="0.5,0.8 5,5 9.5,0.8" fill="none" stroke="#fff" stroke-width="1.5" opacity="0.85"/></svg><svg class="b" style="left:16px;top:764.8px;" width="14" height="14" viewBox="0 0 14 14"><circle cx="7" cy="8.6" r="3.8" fill="none" stroke="#fff" stroke-width="1.3"/><path d="M4.4 1.4h5.2v2H4.4z" fill="#fff"/><path d="M7 3.4v1.6" stroke="#fff" stroke-width="1.2"/></svg><div class="t m" style="left:41px;top:762.9px;font-size:14px;color:#fff;">招聘</div><svg class="b" style="left:176px;top:768.8px;" width="10" height="6" viewBox="0 0 10 6"><polyline points="0.5,0.8 5,5 9.5,0.8" fill="none" stroke="#fff" stroke-width="1.5" opacity="0.85"/></svg><svg class="b" style="left:16px;top:812.6px;" width="14" height="14" viewBox="0 0 14 14"><circle cx="7" cy="4" r="3" fill="#fff"/><path d="M.8 12.8c0-3.4 2.6-5 6.2-5s6.2 1.6 6.2 5z" fill="#fff"/></svg><div class="t m" style="left:41px;top:810.7px;font-size:14px;color:#fff;">用户管理</div><svg class="b" style="left:176px;top:816.6px;" width="10" height="6" viewBox="0 0 10 6"><polyline points="0.5,0.8 5,5 9.5,0.8" fill="none" stroke="#fff" stroke-width="1.5" opacity="0.85"/></svg><svg class="b" style="left:89px;top:1249px;" width="22" height="24" viewBox="0 0 22 24"><path d="M1 3.500h20M8 9.300H21M8 14.700H21M1 20.500h20" stroke="#fff" stroke-opacity=".42" stroke-width="2.600"/><path d="M5.200 9 .6 12l4.600 3z" fill="#fff" fill-opacity=".85"/></svg><div class="b" style="left:200px;top:0px;width:1720px;height:60px;background:#fff;box-shadow:0 2px 5px rgba(0,12,30,.3)"></div><svg class="b" style="left:1764px;top:20px;" width="16" height="20" viewBox="0 0 16 20"><path d="M8 1.800c-2.600 0-4 2.100-4 4.800v4.600L2.400 15h11.200L12 11.200V6.600c0-2.700-1.400-4.800-4-4.800z" fill="none" stroke="#707070" stroke-width="1.400"/><path d="M2 15.400h12M6.400 17.800h3.200" stroke="#707070" stroke-width="1.400"/></svg><svg class="b" style="left:1800.5px;top:15.5px;border-radius:50%;" width="30" height="30" viewBox="0 0 30 30"><rect width="30" height="30" fill="#dcdcdf"/><path d="M6 30c1-6 5-9 11-9s10 3 11 9z" fill="#cfb3ad"/><ellipse cx="16.500" cy="14.500" rx="5.600" ry="7" fill="#ddb9ab"/><path d="M9.500 11.500c-.4-5.500 2.800-8.700 7.200-8.700 4.700 0 7.400 3.300 6.300 8.200-1.300-2.500-3.400-3.600-6.500-3.600-3.200 0-5.400 1.300-7 4.100z" fill="#262324"/><path d="M11 12.800h11" stroke="#3a3435" stroke-width="1.300"/></svg><div class="t" style="left:1845px;top:20.5px;font-size:14px;color:#666;">韩光正</div></div>
</body></html>
